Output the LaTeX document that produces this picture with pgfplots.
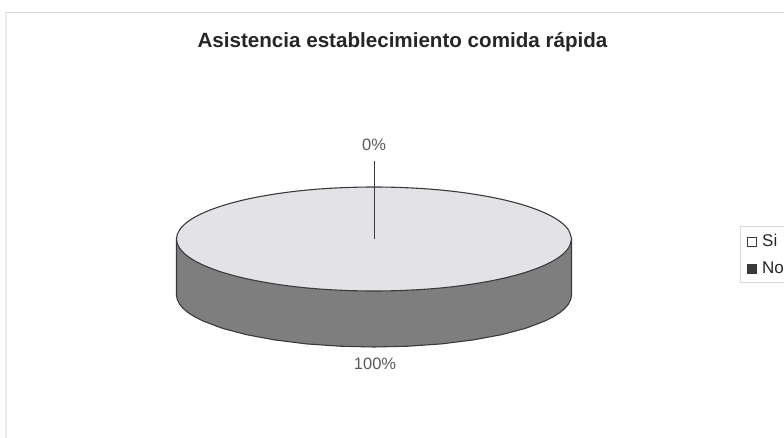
\documentclass[border=0pt]{standalone}
\usepackage{pgfplots}
\pgfplotsset{compat=1.18}
\usepackage{fontspec}
\setmainfont{Liberation Sans}
\definecolor{topface}{HTML}{E3E3E7}
\definecolor{sideface}{HTML}{7E7E7E}
\definecolor{edge}{HTML}{3A3A3A}
\definecolor{framecol}{HTML}{D8D8D8}
\definecolor{framefaint}{HTML}{EBEBEB}
\definecolor{labelcol}{HTML}{5A5A5A}
\definecolor{titlecol}{HTML}{262626}
\begin{document}
\begin{tikzpicture}
\begin{axis}[
  scale only axis, width=784bp, height=438bp,
  xmin=0, xmax=784, ymin=0, ymax=438, y dir=reverse,
  hide axis, clip=false,
]
% page area
\path[use as bounding box] (axis cs:0,0) rectangle (axis cs:784,438);

% chart frame: top and left edges only
\addplot[framefaint, line width=1.2pt, forget plot] coordinates {(6,438) (6,12.5)};
\addplot[framecol, line width=1.2pt, forget plot] coordinates {(6,12.5) (784,12.5)};

% cylinder wall
\addplot[fill=sideface, draw=edge, line width=1.1pt, forget plot] coordinates {
 (176.5,239) (176.5,295) (177.25,299.5) (179.5,304) (183.2,308.5) (188.4,312.8) (195,317) (203,321)
 (222.7,328.4) (247,334.8) (275.2,340) (306.5,343.9) (339.7,346.2) (374,347) (408.3,346.2)
 (441.5,343.9) (472.8,340) (501,334.8) (525.3,328.4) (545,321) (553,317) (559.6,312.8)
 (564.8,308.5) (568.5,304) (570.75,299.5) (571.5,295) (571.5,239)
} -- cycle;

% top face of the pie
\addplot[fill=topface, draw=edge, line width=1.1pt, smooth, tension=0.6, forget plot] coordinates {
 (571.5,239) (568.5,230) (559.6,221.2) (545,213) (525.3,205.6) (501,199.2) (472.8,194)
 (441.5,190.1) (408.3,187.8) (374,187) (339.7,187.8) (306.5,190.1) (275.2,194) (247,199.2)
 (222.7,205.6) (203,213) (188.4,221.2) (179.5,230) (176.5,239) (179.5,248) (188.4,256.8)
 (203,265) (222.7,272.4) (247,278.8) (275.2,284) (306.5,287.9) (339.7,290.2) (374,291)
 (408.3,290.2) (441.5,287.9) (472.8,284) (501,278.8) (525.3,272.4) (545,265) (559.6,256.8)
 (568.5,248) (571.5,239)
};

% leader line of the 0% slice
\addplot[edge, line width=0.8pt, forget plot] coordinates {(374,161) (374,239)};

\node[font=\fontsize{20.6bp}{24bp}\selectfont\bfseries, text=titlecol, anchor=center] at (axis cs:402.5,42) {Asistencia establecimiento comida rápida};
\node[font=\fontsize{16.5bp}{19bp}\selectfont, text=labelcol, anchor=center] at (axis cs:374,145) {0\%};
\node[font=\fontsize{16.5bp}{19bp}\selectfont, text=labelcol, anchor=center] at (axis cs:375,364) {100\%};

% legend box and entries
\draw[framecol, line width=0.8pt] (axis cs:784,226) -- (axis cs:740,226) -- (axis cs:740,282) -- (axis cs:784,282);
\draw[edge, fill=white, line width=1pt] (axis cs:747.5,237) rectangle (axis cs:756.5,246);
\fill[edge] (axis cs:747,264) rectangle (axis cs:757,274);
\node[font=\fontsize{17bp}{19bp}\selectfont, text=titlecol, anchor=west, inner sep=0pt] at (axis cs:762,240) {Si};
\node[font=\fontsize{17bp}{19bp}\selectfont, text=titlecol, anchor=west, inner sep=0pt] at (axis cs:762,268) {No};
\end{axis}
\end{tikzpicture}
\end{document}
